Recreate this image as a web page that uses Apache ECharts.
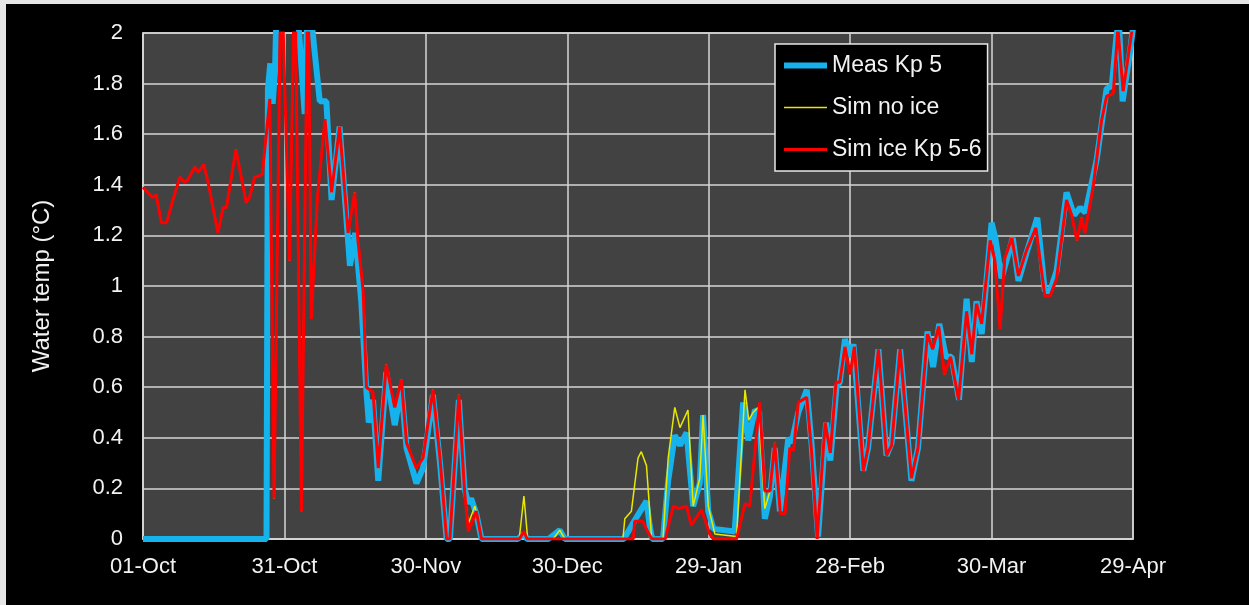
<!DOCTYPE html>
<html>
<head>
<meta charset="utf-8">
<title>Water temperature Kp 5</title>
<script src="https://cdn.jsdelivr.net/npm/echarts@6/dist/echarts.min.js"></script>
<style>
  html, body { margin: 0; padding: 0; background: #e6e6e6; }
  #backdrop { position: absolute; left: 6px; top: 4px; right: 0; bottom: 0; background: #000; }
  #chart { position: absolute; left: 0; top: 0; width: 1249px; height: 605px; }
</style>
</head>
<body>
<div id="backdrop"></div>
<div id="chart"></div>
<script>
// Tick labels on the date axis, one every 30 days starting 01-Oct (day 0)
const dateTicks = ['01-Oct', '31-Oct', '30-Nov', '30-Dec', '29-Jan', '28-Feb', '30-Mar', '29-Apr'];

// Measured water temperature at Kp 5, [day since 01-Oct, °C]
const measKp5 = [
  [0, 0], [26.2, 0], [26.5, 1.78], [27, 1.88], [27.5, 1.72], [28, 1.85], [28.6, 2.3],
  [32, 2.3], [34.3, 1.68], [35, 2.2], [36, 2.0], [37.5, 1.73], [38.9, 1.73], [40, 1.34],
  [41.7, 1.63], [43.9, 1.08], [45, 1.21], [46.3, 0.94], [47.4, 0.58], [47.9, 0.46],
  [48.8, 0.55], [49.9, 0.23], [51.6, 0.66], [53.4, 0.45], [54.8, 0.6], [55.9, 0.36],
  [58, 0.22], [59.4, 0.28], [61.5, 0.57], [63, 0.3], [64.4, 0], [65.1, 0], [67, 0.55],
  [68.2, 0.2], [69, 0.14], [69.6, 0.16], [70.7, 0.1], [71.8, 0], [79.5, 0], [80.8, 0.02],
  [81.5, 0], [86, 0], [88.4, 0.035], [89.5, 0], [102, 0], [104.5, 0.08], [106.8, 0.15],
  [107.5, 0.05], [108, 0], [110.3, 0], [111.4, 0.23], [112.8, 0.41], [113.9, 0.37],
  [115.3, 0.42], [116.7, 0.13], [118.1, 0.22], [118.8, 0.49], [119.9, 0.11], [121, 0.04],
  [125.5, 0.03], [127.3, 0.54], [128.4, 0.39], [129.8, 0.51], [130.7, 0.5], [131.9, 0.08],
  [133, 0.17], [134, 0.36], [135.1, 0.11], [136.9, 0.4], [137.6, 0.38], [139, 0.5],
  [140.8, 0.59], [141.8, 0.38], [143.2, 0.01], [144.9, 0.46], [145.8, 0.31], [147.1, 0.6],
  [147.8, 0.62], [148.9, 0.79], [150, 0.72], [150.7, 0.77], [152.8, 0.27], [153.8, 0.36],
  [156, 0.75], [157.7, 0.33], [158.8, 0.38], [160.6, 0.75], [163, 0.23], [164.4, 0.36],
  [166.4, 0.82], [167.6, 0.68], [168.9, 0.85], [170.3, 0.72], [171.5, 0.72], [173.1, 0.55],
  [174.7, 0.95], [175.8, 0.7], [176.8, 0.94], [177.9, 0.81], [180, 1.25], [180.8, 1.19],
  [182.1, 1.03], [184.5, 1.19], [185.7, 1.02], [187.4, 1.13], [189.7, 1.27], [191.3, 0.98],
  [192.4, 0.98], [193.8, 1.06], [195.9, 1.37], [197.5, 1.28], [198.8, 1.31], [199.9, 1.29],
  [202.3, 1.5], [204.4, 1.78], [205.5, 1.79], [206.5, 1.99], [207, 2.05], [207.8, 1.73],
  [209.4, 1.93], [210, 2.02]
];

// Simulated water temperature without ice, [day, °C]
const simNoIce = [
  [0, 1.39], [1, 1.37], [2, 1.35], [2.8, 1.36], [3.9, 1.25], [5, 1.25], [6.5, 1.35],
  [7.8, 1.43], [8.8, 1.41], [9.5, 1.42], [11, 1.47], [11.7, 1.45], [12.9, 1.48],
  [13.8, 1.41], [15.9, 1.21], [17, 1.31], [17.7, 1.31], [19.7, 1.54], [21.9, 1.33],
  [22.6, 1.35], [23.7, 1.43], [25.3, 1.44], [26.9, 1.74], [27.8, 0.16], [29.3, 2.3],
  [31.1, 1.1], [32.2, 2.3], [33.6, 0.11], [35, 2.3], [35.7, 0.87], [37, 1.35], [38.6, 1.66],
  [40, 1.37], [41.7, 1.63], [43.5, 1.21], [44.9, 1.37], [45.6, 1.18], [46.7, 0.98],
  [47.4, 0.6], [48.8, 0.58], [49.9, 0.28], [51.6, 0.69], [53.4, 0.52], [54.8, 0.63],
  [55.9, 0.38], [58, 0.28], [59.4, 0.32], [61.5, 0.59], [63, 0.32], [64.4, 0], [65.1, 0],
  [67, 0.57], [68.2, 0.19], [69, 0.06], [70.4, 0.13], [71.8, 0], [79.8, 0], [80.8, 0.17],
  [81.6, 0], [87, 0], [88.4, 0.035], [89.5, 0], [101.8, 0], [102.2, 0.08], [103.6, 0.11],
  [105, 0.32], [105.7, 0.345], [106.8, 0.29], [107.9, 0], [110.3, 0], [111.4, 0.32],
  [112.8, 0.52], [113.9, 0.44], [115.6, 0.51], [116.7, 0.13], [118.1, 0.24], [118.8, 0.49],
  [119.9, 0.13], [121.3, 0.02], [125.9, 0.01], [127.7, 0.59], [128.5, 0.47], [129.4, 0.5],
  [130.5, 0.52], [131.9, 0.12], [133, 0.19], [134, 0.38], [135.2, 0.1], [136.2, 0.1],
  [137.2, 0.36], [138, 0.35], [139, 0.54], [140.8, 0.56], [141.8, 0.35], [143, 0],
  [144.7, 0.46], [145.8, 0.34], [147, 0.62], [147.8, 0.62], [148.9, 0.76], [150, 0.65],
  [150.9, 0.76], [152.8, 0.27], [153.8, 0.36], [156, 0.75], [157.7, 0.33], [158.8, 0.37],
  [160.6, 0.75], [163, 0.24], [164.4, 0.36], [166.4, 0.81], [167.5, 0.75], [168.8, 0.84],
  [170, 0.65], [171.3, 0.72], [173, 0.55], [174.7, 0.9], [175.8, 0.73], [176.8, 0.93],
  [177.9, 0.85], [179.7, 1.18], [180.7, 1.1], [181.8, 0.83], [182.8, 1.11], [184.3, 1.19],
  [185.7, 1.04], [187.4, 1.14], [189.4, 1.23], [191.3, 0.96], [192.4, 0.96], [193.8, 1.03],
  [195.9, 1.34], [197, 1.28], [198.1, 1.18], [199.1, 1.27], [199.8, 1.21], [201.6, 1.4],
  [203.3, 1.65], [204.4, 1.75], [205.8, 1.76], [206.8, 2.02], [207.9, 1.77], [209.7, 2.0],
  [210, 2.05]
];

// Simulated water temperature with ice, Kp 5-6, [day, °C]
const simIceKp56 = [
  [0, 1.39], [1, 1.37], [2, 1.35], [2.8, 1.36], [3.9, 1.25], [5, 1.25], [6.5, 1.35],
  [7.8, 1.43], [8.8, 1.41], [9.5, 1.42], [11, 1.47], [11.7, 1.45], [12.9, 1.48],
  [13.8, 1.41], [15.9, 1.21], [17, 1.31], [17.7, 1.31], [19.7, 1.54], [21.9, 1.33],
  [22.6, 1.35], [23.7, 1.43], [25.3, 1.44], [26.9, 1.74], [27.8, 0.16], [29.3, 2.3],
  [31.1, 1.1], [32.2, 2.3], [33.6, 0.11], [35, 2.3], [35.7, 0.87], [37, 1.35], [38.6, 1.66],
  [40, 1.37], [41.7, 1.63], [43.5, 1.21], [44.9, 1.37], [45.6, 1.18], [46.7, 0.98],
  [47.4, 0.6], [48.8, 0.58], [49.9, 0.28], [51.6, 0.69], [53.4, 0.52], [54.8, 0.63],
  [55.9, 0.38], [58, 0.28], [59.4, 0.32], [61.5, 0.59], [63, 0.32], [64.4, 0], [65.1, 0],
  [67, 0.57], [68.2, 0.19], [69, 0.03], [70.7, 0.11], [71.8, 0], [79.8, 0], [80.8, 0.03],
  [81.5, 0], [104, 0], [104.3, 0.07], [106, 0.07], [107.3, 0.02], [108, 0], [110.8, 0],
  [111.4, 0.05], [112.5, 0.13], [113.6, 0.12], [115.3, 0.13], [116.3, 0.055], [118.5, 0.115],
  [120.2, 0.02], [121, 0], [125.9, 0], [127.7, 0.14], [128.7, 0.13], [130.8, 0.54],
  [131.9, 0.19], [133, 0.19], [134, 0.38], [135.2, 0.1], [136.2, 0.1], [137.2, 0.36],
  [138, 0.35], [139, 0.54], [140.8, 0.56], [141.8, 0.35], [143, 0], [144.7, 0.46],
  [145.8, 0.34], [147, 0.62], [147.8, 0.62], [148.9, 0.76], [150, 0.65], [150.9, 0.76],
  [152.8, 0.27], [153.8, 0.36], [156, 0.75], [157.7, 0.33], [158.8, 0.37], [160.6, 0.75],
  [163, 0.24], [164.4, 0.36], [166.4, 0.81], [167.5, 0.75], [168.8, 0.84], [170, 0.65],
  [171.3, 0.72], [173, 0.55], [174.7, 0.9], [175.8, 0.73], [176.8, 0.93], [177.9, 0.85],
  [179.7, 1.18], [180.7, 1.1], [181.8, 0.83], [182.8, 1.11], [184.3, 1.19], [185.7, 1.04],
  [187.4, 1.14], [189.4, 1.23], [191.3, 0.96], [192.4, 0.96], [193.8, 1.03], [195.9, 1.34],
  [197, 1.28], [198.1, 1.18], [199.1, 1.27], [199.8, 1.21], [201.6, 1.4], [203.3, 1.65],
  [204.4, 1.75], [205.8, 1.76], [206.8, 2.02], [207.9, 1.77], [209.7, 2.0], [210, 2.05]
];

const FONT = '"Liberation Sans", Arial, sans-serif';
const TEXT = '#f2f2f2';
const GRIDLINE = '#d6d6d6';
const BLUE = '#16b2ec';
const YELLOW = '#e8e800';
const RED = '#ff0000';

const chart = echarts.init(document.getElementById('chart'), null, { renderer: 'canvas' });

chart.setOption({
  backgroundColor: 'transparent',
  animation: false,
  textStyle: { fontFamily: FONT },
  grid: {
    left: 143, right: 116, top: 33, bottom: 66,
    show: true, backgroundColor: '#424242',
    borderColor: GRIDLINE, borderWidth: 1.5
  },
  legend: {
    orient: 'vertical',
    left: 775, top: 44,
    backgroundColor: '#000',
    borderColor: '#e8e8e8', borderWidth: 1.5, borderRadius: 0,
    padding: [10, 6, 10, 9],
    itemWidth: 43, itemHeight: 14, itemGap: 19,
    symbolKeepAspect: true,
    textStyle: { color: TEXT, fontSize: 23, fontFamily: FONT },
    data: [
      { name: 'Meas Kp 5', icon: 'path://M0,0h43v6h-43z', itemStyle: { color: BLUE } },
      { name: 'Sim no ice', icon: 'path://M0,0h43v1.5h-43z', itemStyle: { color: YELLOW } },
      { name: 'Sim ice Kp 5-6', icon: 'path://M0,0h43v3h-43z', itemStyle: { color: RED } }
    ]
  },
  xAxis: {
    type: 'value', min: 0, max: 210, interval: 30,
    axisLine: { show: true, lineStyle: { color: GRIDLINE, width: 1.5 } },
    axisTick: { show: false },
    splitLine: { show: true, lineStyle: { color: GRIDLINE, width: 1.5 } },
    axisLabel: {
      color: TEXT, fontSize: 22, fontFamily: FONT, margin: 17,
      formatter: v => dateTicks[Math.round(v / 30)] || ''
    }
  },
  yAxis: {
    type: 'value', min: 0, max: 2, interval: 0.2,
    name: 'Water temp (°C)',
    nameLocation: 'middle', nameGap: 89, nameRotate: 90,
    nameTextStyle: { color: TEXT, fontSize: 24, fontFamily: FONT },
    axisLine: { show: true, lineStyle: { color: GRIDLINE, width: 1.5 } },
    axisTick: { show: false },
    splitLine: { show: true, lineStyle: { color: GRIDLINE, width: 1.5 } },
    axisLabel: {
      color: TEXT, fontSize: 22, fontFamily: FONT, margin: 20,
      formatter: v => String(parseFloat(v.toFixed(1)))
    }
  },
  series: [
    {
      name: 'Meas Kp 5', type: 'line', data: measKp5,
      symbol: 'none', clip: true,
      lineStyle: { color: BLUE, width: 6 }, itemStyle: { color: BLUE }
    },
    {
      name: 'Sim no ice', type: 'line', data: simNoIce,
      symbol: 'none', clip: true,
      lineStyle: { color: YELLOW, width: 1.5 }, itemStyle: { color: YELLOW }
    },
    {
      name: 'Sim ice Kp 5-6', type: 'line', data: simIceKp56,
      symbol: 'none', clip: true,
      lineStyle: { color: RED, width: 3 }, itemStyle: { color: RED }
    }
  ]
});
</script>
</body>
</html>
